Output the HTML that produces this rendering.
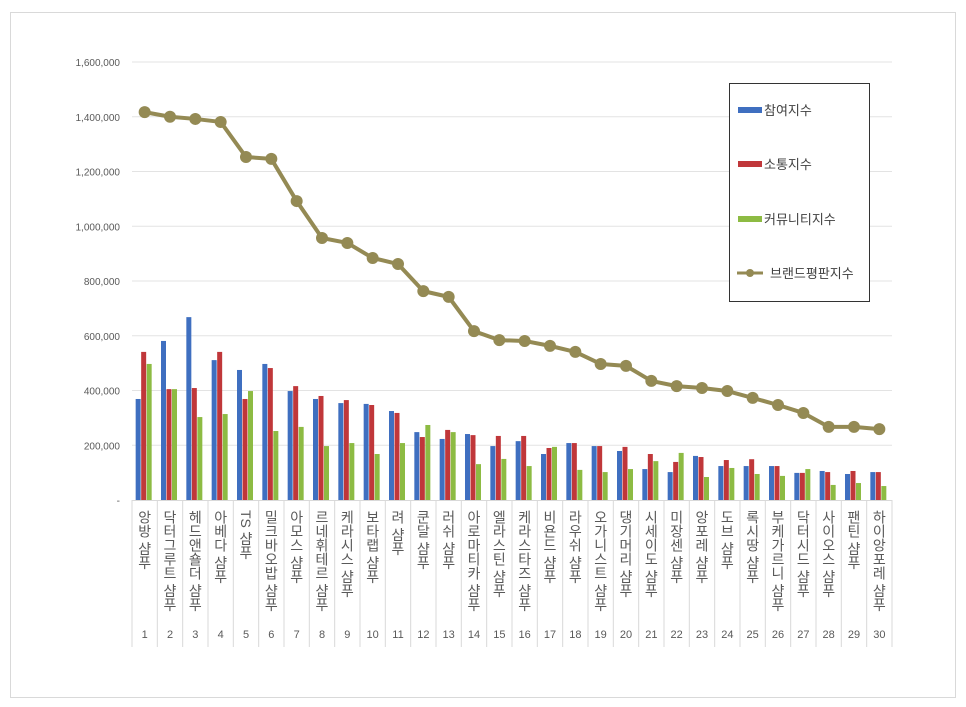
<!DOCTYPE html>
<html><head><meta charset="utf-8"><style>
body{margin:0;background:#fff;font-family:"Liberation Sans","Noto Sans CJK KR",sans-serif;}
#wrap{position:relative;width:966px;height:707px;overflow:hidden}
</style></head><body>
<div id="wrap">
<svg id="chart" width="966" height="707" xmlns="http://www.w3.org/2000/svg"></svg>
</div>
<script>
const categories=["앙방 샴푸","닥터그루트 샴푸","헤드앤숄더 샴푸","아베다 샴푸","TS 샴푸","밀크바오밥 샴푸","아모스 샴푸","르네휘테르 샴푸","케라시스 샴푸","보타랩 샴푸","려 샴푸","쿤달 샴푸","러쉬 샴푸","아로마티카 샴푸","엘라스틴 샴푸","케라스타즈 샴푸","비욘드 샴푸","라우쉬 샴푸","오가니스트 샴푸","댕기머리 샴푸","시세이도 샴푸","미장센 샴푸","앙포레 샴푸","도브 샴푸","록시땅 샴푸","부케가르니 샴푸","닥터시드 샴푸","사이오스 샴푸","팬틴 샴푸","하이앙포레 샴푸"];
const participation=[369000,581000,668000,511000,475000,497000,398000,369000,354000,351000,325000,248000,223000,241000,197000,215000,168000,208000,197000,179000,113000,102000,161000,124000,124000,124000,99000,106000,95000,102000];
const communication=[541000,405000,409000,541000,369000,482000,416000,380000,365000,347000,318000,230000,256000,237000,234000,234000,190000,208000,197000,194000,168000,139000,157000,146000,149000,124000,99000,102000,106000,102000];
const community=[497000,405000,303000,314000,398000,252000,267000,197000,208000,168000,208000,274000,248000,131000,150000,124000,194000,110000,102000,113000,142000,172000,84000,117000,95000,88000,113000,55000,62000,51000];
const brandIndex=[1417000,1400000,1392000,1381000,1253000,1246000,1092000,957000,939000,884000,862000,763000,742000,617000,584000,581000,563000,541000,497000,490000,435000,416000,409000,398000,373000,347000,318000,267000,267000,259000];
const yTicks=[0,200000,400000,600000,800000,1000000,1200000,1400000,1600000];
const tickLabels=["-","200,000","400,000","600,000","800,000","1,000,000","1,200,000","1,400,000","1,600,000"];

const NS="http://www.w3.org/2000/svg";
const svg=document.getElementById('chart');
const X0=132,X1=892,Y0=500,Y1=62,YMAX=1600000;
const bw=(X1-X0)/categories.length;
const y=v=>Y0-(v/YMAX)*(Y0-Y1);
const xc=i=>X0+bw*(i+0.5);
function mk(tag,attrs,parent){const e=document.createElementNS(NS,tag);for(const k in attrs)e.setAttribute(k,attrs[k]);(parent||svg).appendChild(e);return e;}

const frame=mk('rect',{x:10.5,y:12.5,width:945,height:685,fill:'#fff',stroke:'#d9d9d9'});



yTicks.forEach((t,i)=>{
  if(i>0){const g=mk('line',{x1:X0,x2:X1,y1:y(t),y2:y(t),stroke:'#e3e3e3'});
  
  }
  const tx=mk('text',{x:120,y:y(t)+4,'text-anchor':'end','font-size':10,fill:'#595959'});
  tx.textContent=tickLabels[i];
  
  
});
const ax=mk('line',{x1:X0,x2:X1,y1:Y0+0.5,y2:Y0+0.5,stroke:'#d9d9d9'});



for(let i=0;i<=categories.length;i++){
  const l=mk('line',{x1:X0+bw*i,x2:X0+bw*i,y1:Y0,y2:647,stroke:'#d9d9d9'});
  
  
}

const series=[[participation,'#3f6fc0',-6.5],[communication,'#c0373a',-1],[community,'#8dbb43',4.5]];
const names=['bar-participation','bar-communication','bar-community'];
series.forEach(([arr,col,off],s)=>{
  arr.forEach((v,i)=>{
    const r=mk('rect',{x:xc(i)+off-2.5,y:y(v),width:5,height:Y0-y(v),fill:col});
    
    
  });
});

const pts=brandIndex.map((v,i)=>xc(i)+','+y(v)).join(' ');
const pl=mk('polyline',{points:pts,fill:'none',stroke:'#948a54','stroke-width':4,'stroke-linejoin':'round'});


brandIndex.forEach((v,i)=>{
  const c=mk('circle',{cx:xc(i),cy:y(v),r:6,fill:'#948a54'});
  
  
});

categories.forEach((c,i)=>{
  const t=mk('text',{x:xc(i),y:510,'font-size':14,fill:'#595959','writing-mode':'tb','glyph-orientation-vertical':0,style:'writing-mode:vertical-rl;text-orientation:mixed'});
  t.textContent=c;
  
  
  const n=mk('text',{x:xc(i),y:638,'text-anchor':'middle','font-size':11,fill:'#595959'});
  n.textContent=String(i+1);
  
  
});

const lg=mk('g',{});


mk('rect',{x:729.5,y:83.5,width:140,height:218,fill:'#fff',stroke:'#333'},lg);
const legendNames=['참여지수','소통지수','커뮤니티지수'];
const legendCols=['#3f6fc0','#c0373a','#8dbb43'];
[110,164,219].forEach((yy,i)=>{
  const sw=mk('rect',{x:738,y:yy-3,width:24,height:6,fill:legendCols[i]},lg);
  
  
  const t=mk('text',{x:764,y:yy+5,'font-size':13,fill:'#404040'},lg);
  t.textContent=legendNames[i];
  
  
});
mk('line',{x1:737,x2:763,y1:273,y2:273,stroke:'#948a54','stroke-width':3},lg);
mk('circle',{cx:750,cy:273,r:4,fill:'#948a54'},lg);
const lt=mk('text',{x:770,y:278,'font-size':13,fill:'#404040'},lg);
lt.textContent='브랜드평판지수';


</script>
</body></html>
